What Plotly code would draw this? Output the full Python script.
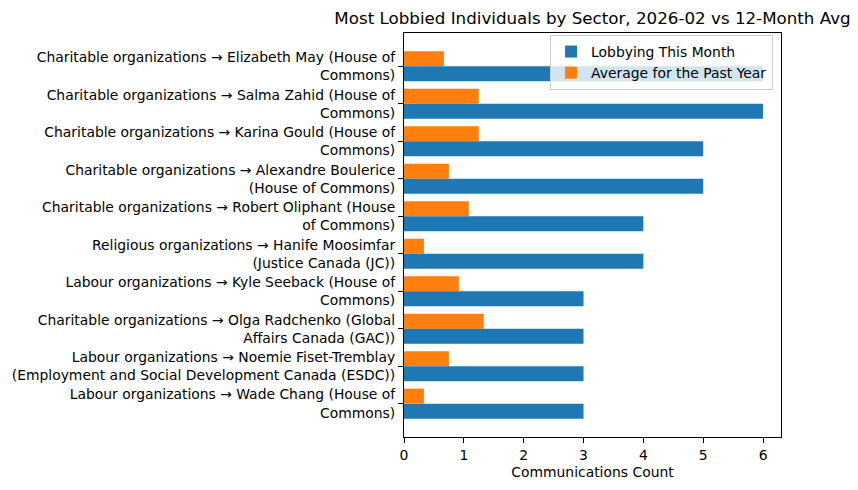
import plotly.graph_objects as go

labels = [
    "Charitable organizations → Elizabeth May (House of<br>Commons)",
    "Charitable organizations → Salma Zahid (House of<br>Commons)",
    "Charitable organizations → Karina Gould (House of<br>Commons)",
    "Charitable organizations → Alexandre Boulerice<br>(House of Commons)",
    "Charitable organizations → Robert Oliphant (House<br>of Commons)",
    "Religious organizations → Hanife Moosimfar<br>(Justice Canada (JC))",
    "Labour organizations → Kyle Seeback (House of<br>Commons)",
    "Charitable organizations → Olga Radchenko (Global<br>Affairs Canada (GAC))",
    "Labour organizations → Noemie Fiset-Tremblay<br>(Employment and Social Development Canada (ESDC))",
    "Labour organizations → Wade Chang (House of<br>Commons)",
]
this_month = [6, 6, 5, 5, 4, 4, 3, 3, 3, 3]
past_year_avg = [0.667, 1.25, 1.25, 0.75, 1.083, 0.333, 0.917, 1.333, 0.75, 0.333]

FONT = "DejaVu Sans"
fig = go.Figure()
fig.add_trace(go.Bar(y=labels, x=past_year_avg, orientation="h",
                     name="Average for the Past Year", marker=dict(color="#ff7f0e", line=dict(width=0))))
fig.add_trace(go.Bar(y=labels, x=this_month, orientation="h",
                     name="Lobbying This Month", marker=dict(color="#1f77b4", line=dict(width=0))))

fig.update_layout(
    width=858, height=490,
    margin=dict(l=404, r=77, t=33, b=53, autoexpand=False),
    paper_bgcolor="white", plot_bgcolor="white",
    font=dict(family=FONT, size=13.9, color="black"),
    barmode="group", bargap=0.2, bargroupgap=0,
    title=dict(text="Most Lobbied Individuals by Sector, 2026-02 vs 12-Month Avg",
               x=0.5, xref="paper", xanchor="center", y=1 - 18 / 490, yref="container",
               yanchor="middle", font=dict(size=16.7, family=FONT, color="black")),
    legend=dict(x=0.979, y=0.995, xanchor="right", yanchor="top", traceorder="reversed",
                bgcolor="rgba(255,255,255,0.8)", bordercolor="#cccccc", borderwidth=1,
                font=dict(size=13.9, family=FONT)),
    xaxis=dict(range=[0, 6.3], tickvals=[0, 1, 2, 3, 4, 5, 6], ticks="outside", ticklen=5,
               tickcolor="black", showgrid=False, zeroline=False, showline=True, mirror=True,
               linecolor="black", linewidth=1,
               title=dict(text="Communications Count", standoff=5, font=dict(size=13.9, family=FONT))),
    yaxis=dict(type="category", range=[9.89, -0.89], ticks="outside", ticklen=5, tickcolor="black",
               showgrid=False, zeroline=False, showline=True, mirror=True, linecolor="black", linewidth=1),
)
fig.write_html("out.html")
